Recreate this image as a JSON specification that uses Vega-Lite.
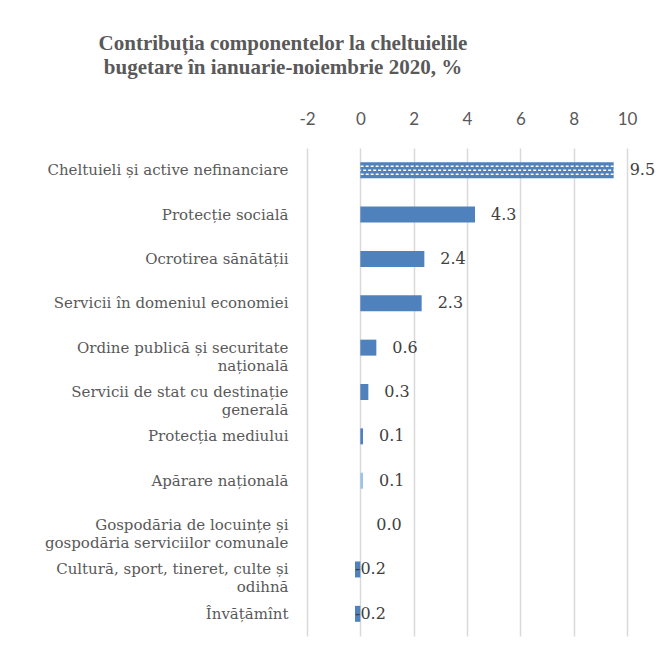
{
  "$schema": "https://vega.github.io/schema/vega-lite/v6.json",
  "width": 320,
  "height": 488,
  "autosize": {"type": "none"},
  "padding": {"left": 307, "top": 148, "right": 45, "bottom": 21},
  "background": "white",
  "config": {
    "view": {"stroke": null},
    "locale": {"number": {"decimal": ".", "thousands": ",", "grouping": [3], "currency": ["$", ""], "minus": "-"}}
  },
  "title": {
    "text": ["Contribuția componentelor la cheltuielile", "bugetare în ianuarie-noiembrie 2020, %"],
    "font": "Liberation Serif",
    "fontWeight": "bold",
    "fontSize": 21,
    "color": "#595959",
    "anchor": "middle",
    "dx": -184,
    "lineHeight": 24,
    "offset": 32
  },
  "data": {
    "values": [
      {"category": "Cheltuieli și active nefinanciare", "value": 9.5},
      {"category": "Protecție socială", "value": 4.3},
      {"category": "Ocrotirea sănătății", "value": 2.4},
      {"category": "Servicii în domeniul economiei", "value": 2.3},
      {"category": "Ordine publică și securitate\nnațională", "value": 0.6},
      {"category": "Servicii de stat cu destinație\ngenerală", "value": 0.3},
      {"category": "Protecția mediului", "value": 0.1},
      {"category": "Apărare națională", "value": 0.1},
      {"category": "Gospodăria de locuințe și\ngospodăria serviciilor comunale", "value": 0.0},
      {"category": "Cultură, sport, tineret, culte și\nodihnă", "value": -0.2},
      {"category": "Învățămînt", "value": -0.2}
    ]
  },
  "encoding": {
    "y": {
      "field": "category",
      "type": "nominal",
      "sort": null,
      "scale": {"paddingInner": 0.64, "paddingOuter": 0.32},
      "axis": {
        "title": null,
        "domain": false,
        "ticks": false,
        "grid": false,
        "labelExpr": "split(datum.label, '\\n')",
        "labelFont": "DejaVu Serif",
        "labelFontSize": 15,
        "labelColor": "#595959",
        "labelLineHeight": 18,
        "labelLimit": 400,
        "labelPadding": 19
      }
    }
  },
  "layer": [
    {
      "mark": {"type": "bar"},
      "encoding": {
        "x": {
          "field": "value",
          "type": "quantitative",
          "scale": {"domain": [-2, 10], "nice": false, "zero": false},
          "axis": {
            "orient": "top",
            "title": null,
            "values": [-2, 0, 2, 4, 6, 8, 10],
            "domain": false,
            "ticks": false,
            "grid": true,
            "gridColor": "#d9d9d9",
            "gridWidth": 1.5,
            "labelFont": "Lato",
            "labelFontSize": 17,
            "labelColor": "#595959",
            "labelPadding": 20,
            "labelFlush": false
          }
        },
        "x2": {"datum": 0},
        "color": {
          "condition": {"test": "datum.category === 'Apărare națională'", "value": "#9DC3E6"},
          "value": "#4F81BD"
        }
      }
    },
    {
      "transform": [{"filter": "datum.category === 'Cheltuieli și active nefinanciare'"}],
      "mark": {"type": "rule", "color": "white", "strokeWidth": 1.6, "strokeDash": [3, 2], "yOffset": -4},
      "encoding": {"x": {"field": "value", "type": "quantitative"}, "x2": {"datum": 0}}
    },
    {
      "transform": [{"filter": "datum.category === 'Cheltuieli și active nefinanciare'"}],
      "mark": {"type": "rule", "color": "white", "strokeWidth": 1.6, "strokeDash": [3, 2], "strokeDashOffset": 2.5, "yOffset": 0},
      "encoding": {"x": {"field": "value", "type": "quantitative"}, "x2": {"datum": 0}}
    },
    {
      "transform": [{"filter": "datum.category === 'Cheltuieli și active nefinanciare'"}],
      "mark": {"type": "rule", "color": "white", "strokeWidth": 1.6, "strokeDash": [3, 2], "yOffset": 4},
      "encoding": {"x": {"field": "value", "type": "quantitative"}, "x2": {"datum": 0}}
    },
    {
      "transform": [{"filter": "datum.value >= 0"}],
      "mark": {"type": "text", "align": "left", "baseline": "middle", "dx": 16, "font": "DejaVu Serif", "fontSize": 16, "color": "#404040"},
      "encoding": {
        "x": {"field": "value", "type": "quantitative"},
        "text": {"field": "value", "type": "quantitative", "format": ".1f"}
      }
    },
    {
      "transform": [{"filter": "datum.value < 0"}],
      "mark": {"type": "text", "align": "left", "baseline": "middle", "dx": 0, "font": "DejaVu Serif", "fontSize": 16, "color": "#404040"},
      "encoding": {
        "x": {"field": "value", "type": "quantitative"},
        "text": {"field": "value", "type": "quantitative", "format": ".1f"}
      }
    }
  ]
}
